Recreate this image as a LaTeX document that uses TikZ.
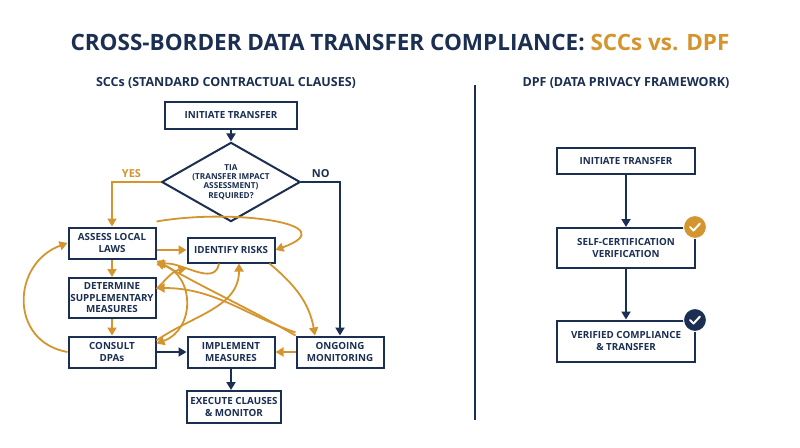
\documentclass[tikz,border=0pt]{standalone}
\usepackage{fontspec}
\setmainfont{Open Sans}
\usetikzlibrary{shapes.geometric,arrows.meta}
\definecolor{navy}{HTML}{1B2F52}
\definecolor{gold}{HTML}{D4952F}
\begin{document}
\begin{tikzpicture}[x=1pt,y=-1pt,
 box/.style={draw=navy,line width=2pt,fill=white,align=center,font=\bfseries\fontsize{9.8}{11.5}\selectfont,text=navy,inner sep=1pt},
 na/.style={draw=navy,line width=2pt,-{Triangle[length=8pt,width=9pt]}},
 ga/.style={draw=gold,line width=1.8pt,-{Triangle[length=8pt,width=9pt]}},
 lbl/.style={font=\bfseries\fontsize{11}{12}\selectfont}]
\useasboundingbox[fill=white] (0,0) rectangle (800,447);
\node[font=\bfseries\fontsize{22.5}{26}\selectfont,text=navy] (title) at (400,42) {CROSS-BORDER DATA TRANSFER COMPLIANCE: \textcolor{gold}{SCCs vs. DPF}};
\node[font=\bfseries\fontsize{12.5}{14}\selectfont,text=navy] (st1) at (226,83) {SCCs (STANDARD CONTRACTUAL CLAUSES)};
\node[font=\bfseries\fontsize{12.5}{14}\selectfont,text=navy] (st2) at (626,83) {DPF (DATA PRIVACY FRAMEWORK)};
\coordinate (d1) at (475,85); \coordinate (d2) at (475,420);
\draw[navy,line width=1.2pt] (d1) -- (d2);
% left
\node[box,minimum width=132pt,minimum height=27pt] (init) at (231,115) {INITIATE TRANSFER};
\node[box,diamond,aspect=1.75,minimum width=128pt,minimum height=74pt,inner sep=0pt,font=\bfseries\fontsize{8.2}{9.3}\selectfont] (tia) at (231,182) {TIA\\(TRANSFER IMPACT\\ASSESSMENT)\\REQUIRED?};
\node[box,minimum width=87pt,minimum height=31pt] (assess) at (112,243) {ASSESS LOCAL\\LAWS};
\node[box,minimum width=87pt,minimum height=25pt] (ident) at (231,250) {IDENTIFY RISKS};
\node[box,minimum width=87pt,minimum height=40pt] (det) at (112,298) {DETERMINE\\SUPPLEMENTARY\\MEASURES};
\node[box,minimum width=87pt,minimum height=31pt] (cons) at (112,352) {CONSULT\\DPAs};
\node[box,minimum width=87pt,minimum height=31pt] (impl) at (231,352) {IMPLEMENT\\MEASURES};
\node[box,minimum width=87pt,minimum height=31pt] (ong) at (340,352) {ONGOING\\MONITORING};
\node[box,minimum width=94pt,minimum height=32pt] (exec) at (234,407) {EXECUTE CLAUSES\\\& MONITOR};
\draw[na] (init) -- (tia);
\draw[ga] (tia.west) -| node[pos=0.3,above,lbl,text=gold]{YES} (assess.north);
\draw[na] (tia.east) -| node[pos=0.25,above,lbl,text=navy]{NO} (ong.north);
\draw[ga] (assess.east|-ident) -- (ident.west);
\draw[ga] ([yshift=5pt]assess.north east) to[out=10,in=20,looseness=1.6] (ident.east);
\draw[ga] (assess) -- (det);
\draw[ga] (det) -- (cons);
\draw[ga] ([xshift=-12pt]ident.south) to[out=-100,in=10] ([yshift=12pt]det.north east);
\draw[ga] ([yshift=-12pt]det.north east) to[out=45,in=190] ([yshift=-5pt]ident.south west);
\draw[ga] ([yshift=-5pt]cons.north east) to[out=35,in=-90] ([xshift=8pt]ident.south);
\draw[ga,{Triangle[length=8pt,width=9pt]}-{Triangle[length=8pt,width=9pt]}] ([yshift=-3pt]assess.south east) to[out=-20,in=20,looseness=1.3] ([yshift=-8pt]cons.north east);
\draw[ga] (cons.west) to[out=170,in=200,looseness=1.4] (assess.west);
\draw[ga] (ong.north west) to[out=150,in=-30] ([yshift=-1pt]assess.south east);
\draw[ga] ([yshift=3pt]ong.north west) to[out=160,in=0] ([yshift=10pt]det.east);
\draw[ga] ([xshift=-6pt]ident.south east) to[out=-40,in=100] ([xshift=-25pt]ong.north);
\draw[ga] (ong.west) -- (impl.east);
\draw[na] (cons) -- (impl);
\draw[na] (impl) -- (impl|-exec.north);
% right
\node[box,minimum width=138pt,minimum height=26pt] (rinit) at (626,161) {INITIATE TRANSFER};
\node[box,minimum width=138pt,minimum height=40pt] (self) at (626,248) {SELF-CERTIFICATION\\VERIFICATION};
\node[box,minimum width=138pt,minimum height=41pt] (ver) at (626,341) {VERIFIED COMPLIANCE\\\& TRANSFER};
\draw[na] (rinit) -- (self);
\draw[na] (self) -- (ver);
\node[circle,fill=gold,draw=white,line width=1pt,minimum size=23pt,inner sep=0pt] (c1) at (695,227) {};
\draw[white,line width=2pt,line cap=round,line join=round] ([shift={(-5,0)}]c1.center) -- ([shift={(-1.5,3.5)}]c1.center) -- ([shift={(5,-3.5)}]c1.center);
\node[circle,fill=navy,draw=white,line width=1pt,minimum size=23pt,inner sep=0pt] (c2) at (695,320) {};
\draw[white,line width=2pt,line cap=round,line join=round] ([shift={(-5,0)}]c2.center) -- ([shift={(-1.5,3.5)}]c2.center) -- ([shift={(5,-3.5)}]c2.center);
\end{tikzpicture}
\end{document}
